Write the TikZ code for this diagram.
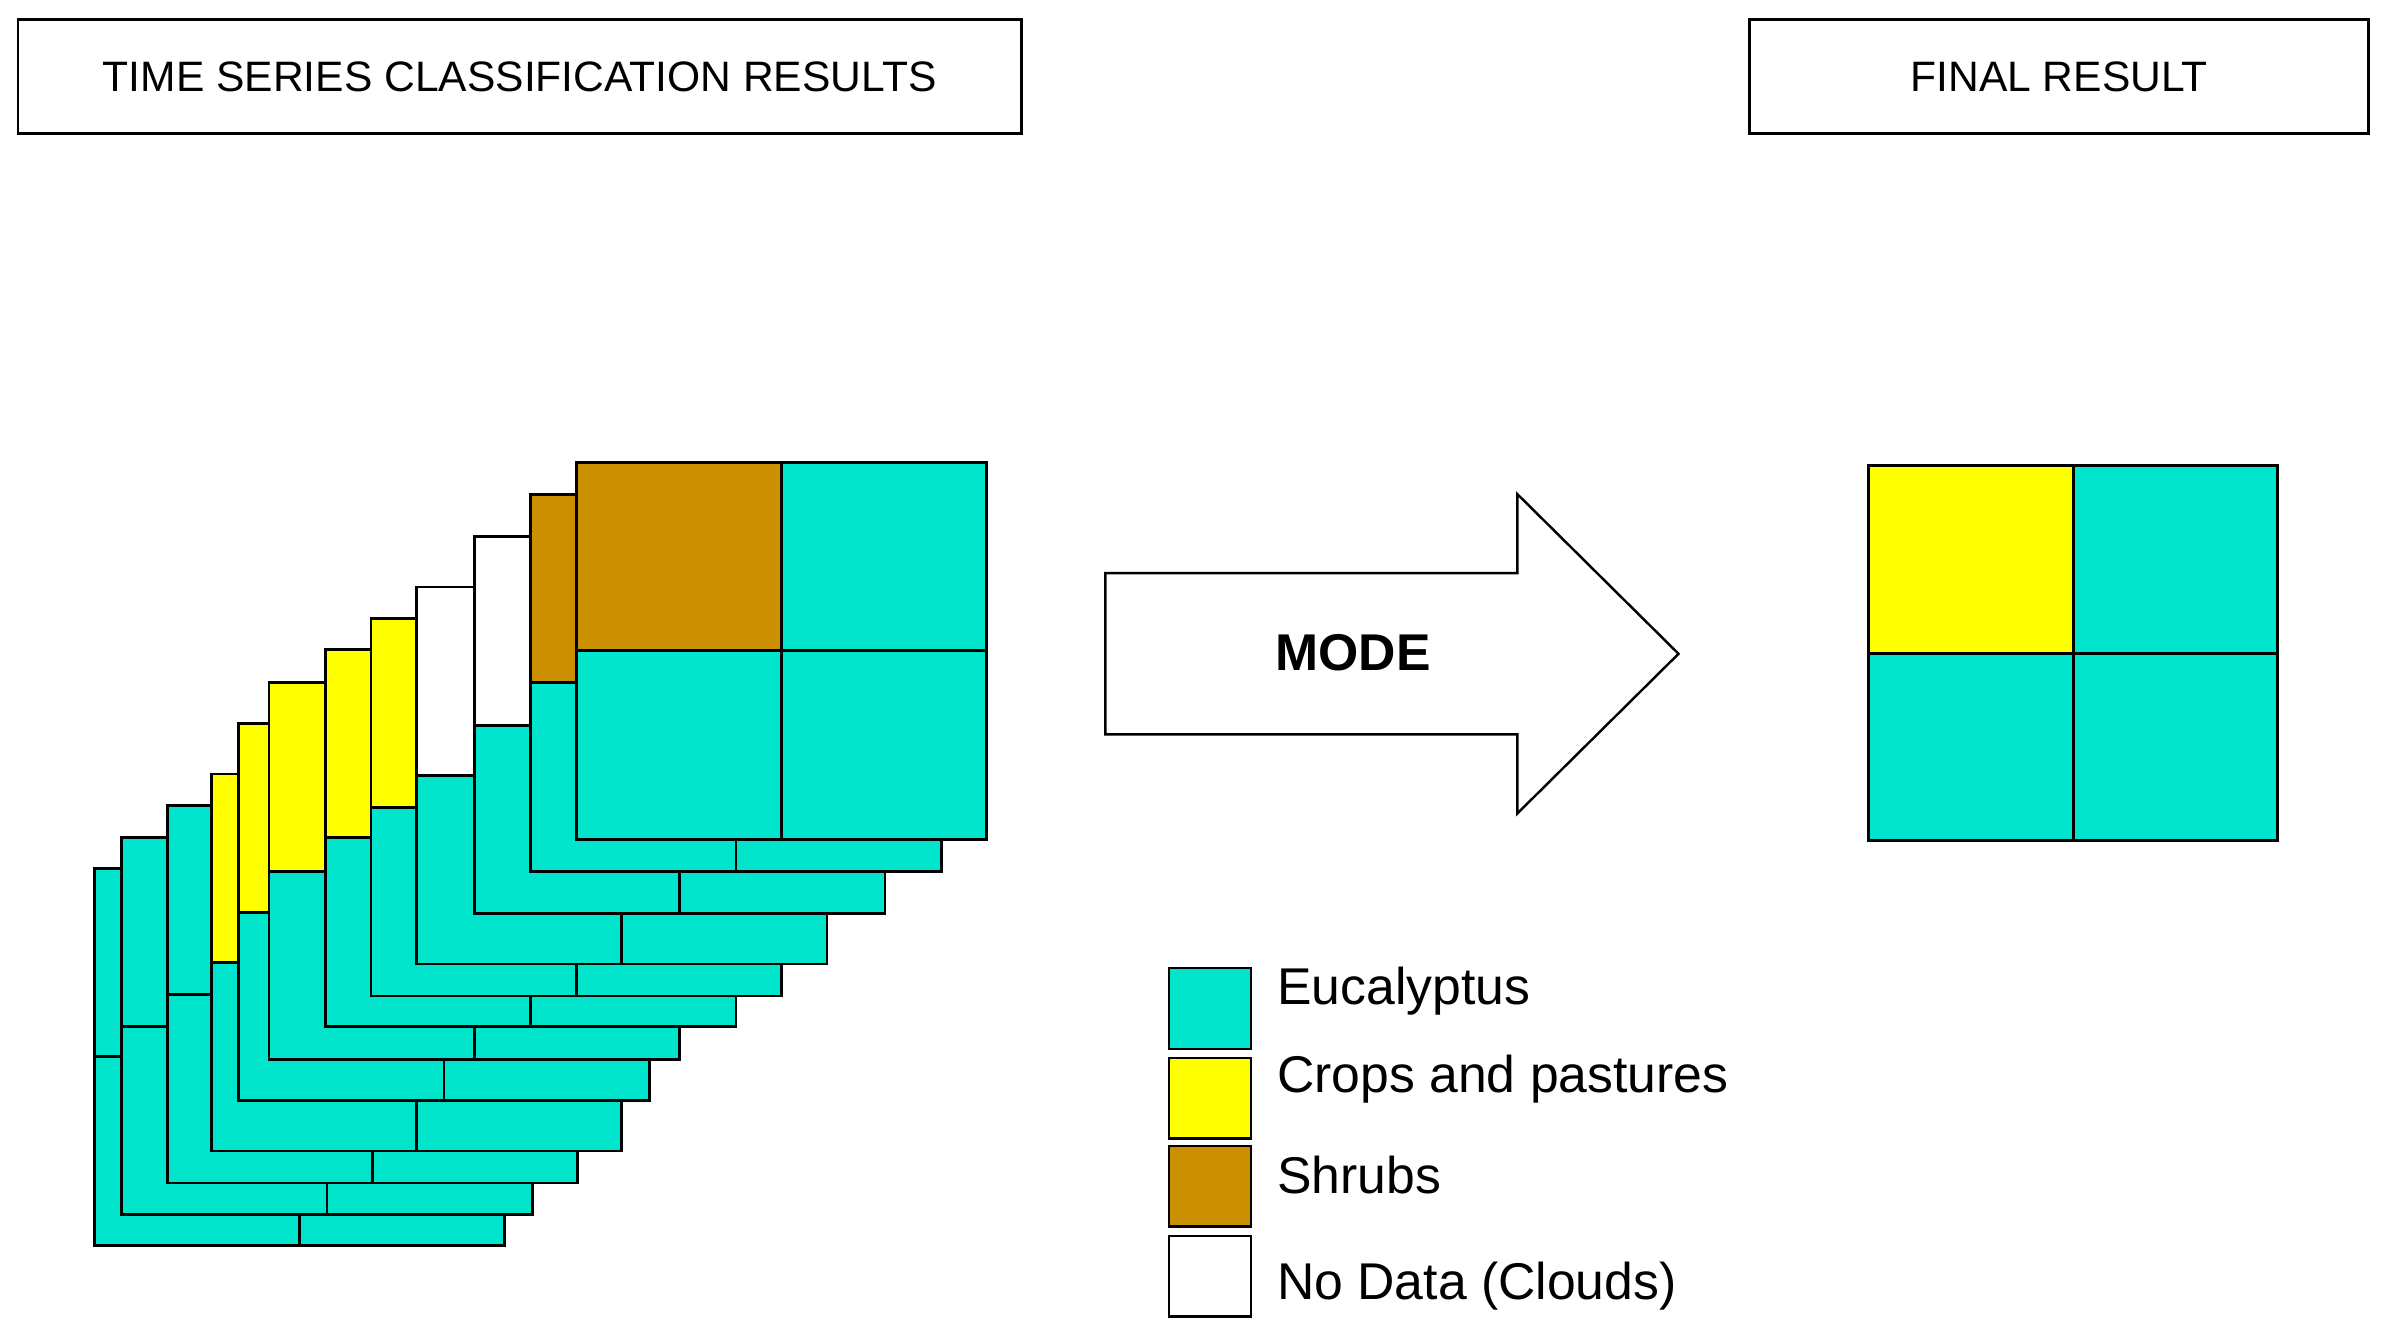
\documentclass[tikz,border=0pt]{standalone}
\usepackage{fontspec}
\setmainfont{Liberation Sans}
\definecolor{teal}{HTML}{00E5CC}
\definecolor{yel}{HTML}{FFFF00}
\definecolor{brn}{HTML}{CC8F00}
\begin{document}
\begin{tikzpicture}[x=0.5pt,y=-0.5pt,
  cell/.style={draw=black,line width=0.9pt},
  title/.style={draw=black,line width=0.8pt,font=\fontsize{14}{16}\selectfont},
  leg/.style={draw=black,line width=0.8pt,minimum width=27pt,minimum height=26.5pt,inner sep=0pt,anchor=north west},
  legtxt/.style={anchor=west,font=\fontsize{17}{20}\selectfont}]
\useasboundingbox (0,0) rectangle (1568,875);
\node[title,minimum width=330pt,minimum height=37.5pt,anchor=north west] (t1) at (11,12) {TIME SERIES CLASSIFICATION RESULTS};
\node[title,minimum width=203.5pt,minimum height=37.5pt,anchor=north west] (t2) at (1150,12) {FINAL RESULT};
% layers: left, top, width, height, TL colour
\foreach \l/\t/\c in {62/571/teal,80/551/teal,110/530/teal,139/509/yel,157/476/yel,177/449/yel,214/427/yel,244/407/yel,274/386/white,312/353/white,349/325/brn,379/304/brn}{
  \pgfmathsetmacro{\w}{270}\pgfmathsetmacro{\h}{248}
  \fill[\c] (\l,\t) rectangle ++(\w/2,\h/2);
  \fill[teal] (\l+\w/2,\t) rectangle ++(\w/2,\h/2);
  \fill[teal] (\l,\t+\h/2) rectangle ++(\w,\h/2);
  \draw[cell] (\l,\t) rectangle ++(\w,\h);
  \draw[cell] (\l+\w/2,\t) -- ++(0,\h);
  \draw[cell] (\l,\t+\h/2) -- ++(\w,0);
}
% arrow
\draw[line width=0.8pt,fill=white] (727,377) -- (998,377) -- (998,325) -- (1104,430) -- (998,535) -- (998,483) -- (727,483) -- cycle;
\node[font=\bfseries\fontsize{17}{20}\selectfont] (mode) at (890,429) {MODE};
% final
\fill[yel] (1229,306) rectangle (1364,430);
\fill[teal] (1364,306) rectangle (1498,430);
\fill[teal] (1229,430) rectangle (1498,553);
\draw[cell] (1229,306) rectangle (1498,553);
\draw[cell] (1364,306) -- (1364,553);
\draw[cell] (1229,430) -- (1498,430);
% legend
\node[leg,fill=teal] (l1) at (768,636) {};
\node[leg,fill=yel] (l2) at (768,695) {};
\node[leg,fill=brn] (l3) at (768,753) {};
\node[leg,fill=white] (l4) at (768,812) {};
\node[legtxt] at (833,652) {Eucalyptus};
\node[legtxt] at (833,710) {Crops and pastures};
\node[legtxt] at (833,773) {Shrubs};
\node[legtxt] at (833,846) {No Data (Clouds)};
\end{tikzpicture}
\end{document}
